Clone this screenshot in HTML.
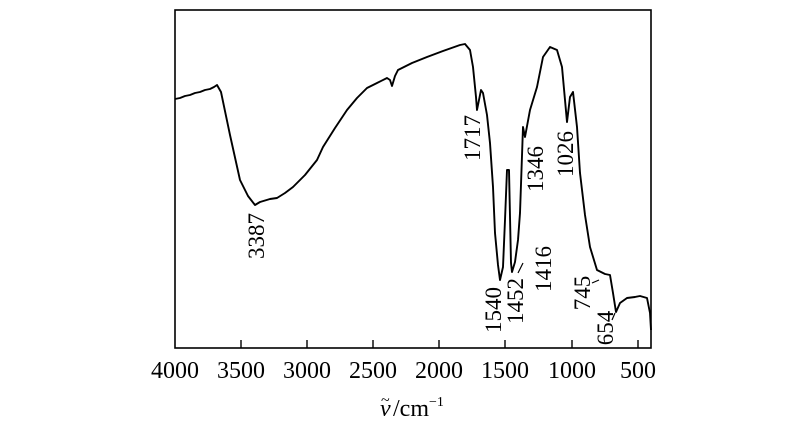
<!DOCTYPE html>
<html><head><meta charset="utf-8"><style>
body{margin:0;background:#fff}
svg text{font-family:"Liberation Serif",serif;fill:#000}
</style></head><body>
<svg width="800" height="442" viewBox="0 0 800 442" xmlns="http://www.w3.org/2000/svg">
<rect x="175" y="10" width="476" height="338" fill="none" stroke="#000" stroke-width="1.6"/>
<g stroke="#000" stroke-width="1.4">
<line x1="241" y1="348" x2="241" y2="340"/><line x1="307" y1="348" x2="307" y2="340"/>
<line x1="373" y1="348" x2="373" y2="340"/><line x1="439" y1="348" x2="439" y2="340"/>
<line x1="505" y1="348" x2="505" y2="340"/><line x1="572" y1="348" x2="572" y2="340"/>
<line x1="638" y1="348" x2="638" y2="340"/>
</g>
<g font-size="24" text-anchor="middle">
<text x="175" y="378">4000</text><text x="241" y="378">3500</text><text x="307" y="378">3000</text>
<text x="373" y="378">2500</text><text x="439" y="378">2000</text><text x="505" y="378">1500</text>
<text x="572" y="378">1000</text><text x="638" y="378">500</text>
</g>
<text x="380" y="416" font-size="24" font-style="italic">ν</text>
<text x="381" y="405" font-size="16">~</text>
<text x="393" y="416" font-size="24">/cm<tspan font-size="14" dy="-10">−1</tspan></text>
<polyline fill="none" stroke="#000" stroke-width="1.9" stroke-linejoin="round" points="175,99 180,98 185,96 190,95 195,93 200,92 205,90 210,89 214,87 217,85 221,92 230,135 240,180 248,196 255,205 260,202 270,199 277,198 285,193 293,187 305,175 317,160 323,147 335,128 347,110 357,98 367,88 377,83 387,78 390,80 392,86 395,76 398,70 412,63 427,57 443,51 460,45 465,44 470,50 473,67 476,97 477,110 481,90 483,93 487,115 490,143 493,187 495,233 498,265 500,280 503,267 505,220 507,170 509,170 511,263 512,272 515,262 518,240 520,213 523,127 525,137 530,110 537,87 543,57 550,47 557,50 562,67 565,100 567,122 570,97 573,92 577,127 580,173 585,215 590,247 597,270 605,274 610,275 613,293 616,312 620,303 627,298 635,297 640,296 647,298 650,313 651,330"/>
<g stroke="#000" stroke-width="1.2">
<line x1="523" y1="263" x2="518" y2="273"/>
<line x1="592" y1="283" x2="599" y2="280"/>
<line x1="612" y1="320" x2="615" y2="313"/>
</g>
<g font-size="23" text-anchor="middle">
<text transform="translate(264,236) rotate(-90)">3387</text>
<text transform="translate(480,138) rotate(-90)">1717</text>
<text transform="translate(501,310) rotate(-90)">1540</text>
<text transform="translate(523,301) rotate(-90)">1452</text>
<text transform="translate(551,269) rotate(-90)">1416</text>
<text transform="translate(543,169) rotate(-90)">1346</text>
<text transform="translate(573,154) rotate(-90)">1026</text>
<text transform="translate(590,293) rotate(-90)">745</text>
<text transform="translate(613,328) rotate(-90)">654</text>
</g>
</svg>
</body></html>
